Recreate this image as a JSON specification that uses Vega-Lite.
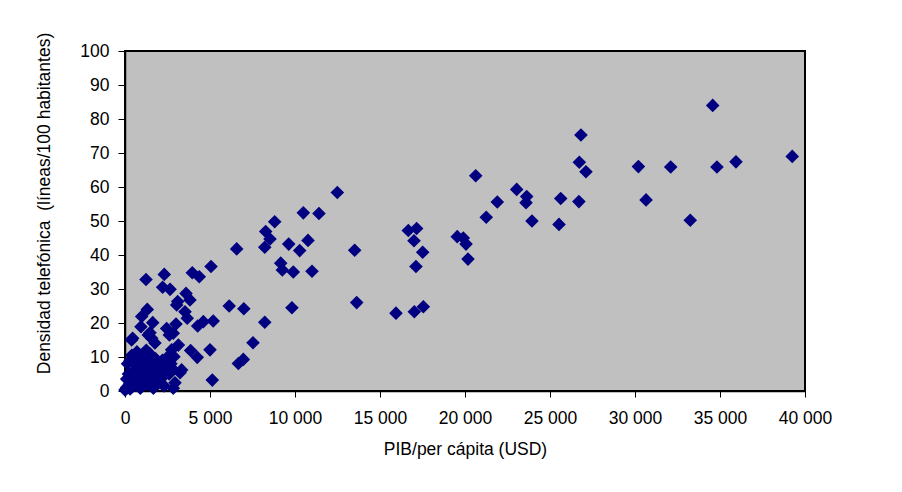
{
  "$schema": "https://vega.github.io/schema/vega-lite/v6.json",
  "width": 680,
  "height": 340,
  "autosize": {"type": "none"},
  "padding": {"left": 125, "top": 51, "right": 97, "bottom": 101},
  "background": "white",
  "config": {
    "view": {"fill": "#C0C0C0", "stroke": "#000000", "strokeWidth": 2},
    "font": "Liberation Sans"
  },
  "data": {
    "values": [
      {"pib": 34570, "densidad": 84.0},
      {"pib": 30200, "densidad": 66.0},
      {"pib": 32100, "densidad": 65.9},
      {"pib": 34820, "densidad": 65.9},
      {"pib": 35940, "densidad": 67.4},
      {"pib": 39250, "densidad": 69.0},
      {"pib": 30650, "densidad": 56.2},
      {"pib": 33250, "densidad": 50.2},
      {"pib": 26820, "densidad": 75.3},
      {"pib": 26725, "densidad": 67.3},
      {"pib": 27115, "densidad": 64.5},
      {"pib": 20630, "densidad": 63.3},
      {"pib": 23040, "densidad": 59.3},
      {"pib": 23630, "densidad": 57.2},
      {"pib": 23590, "densidad": 55.4},
      {"pib": 21900, "densidad": 55.6},
      {"pib": 21250, "densidad": 51.1},
      {"pib": 25630, "densidad": 56.6},
      {"pib": 26700, "densidad": 55.7},
      {"pib": 23940, "densidad": 50.0},
      {"pib": 25530, "densidad": 49.0},
      {"pib": 16665, "densidad": 47.2},
      {"pib": 17155, "densidad": 47.8},
      {"pib": 17000, "densidad": 44.2},
      {"pib": 17510, "densidad": 40.8},
      {"pib": 17115, "densidad": 36.6},
      {"pib": 19545, "densidad": 45.4},
      {"pib": 19900, "densidad": 45.0},
      {"pib": 20060, "densidad": 43.2},
      {"pib": 20175, "densidad": 38.8},
      {"pib": 15940, "densidad": 22.9},
      {"pib": 17020, "densidad": 23.3},
      {"pib": 17550, "densidad": 24.8},
      {"pib": 12490, "densidad": 58.4},
      {"pib": 10490, "densidad": 52.4},
      {"pib": 11410, "densidad": 52.2},
      {"pib": 8805, "densidad": 49.8},
      {"pib": 8275, "densidad": 46.9},
      {"pib": 8530, "densidad": 44.7},
      {"pib": 8220, "densidad": 42.3},
      {"pib": 9630, "densidad": 43.2},
      {"pib": 10765, "densidad": 44.3},
      {"pib": 10275, "densidad": 41.3},
      {"pib": 9160, "densidad": 37.6},
      {"pib": 9255, "densidad": 35.6},
      {"pib": 9900, "densidad": 35.0},
      {"pib": 11000, "densidad": 35.2},
      {"pib": 13510, "densidad": 41.4},
      {"pib": 13630, "densidad": 26.0},
      {"pib": 9820, "densidad": 24.5},
      {"pib": 8220, "densidad": 20.2},
      {"pib": 7530, "densidad": 14.2},
      {"pib": 6570, "densidad": 41.8},
      {"pib": 5060, "densidad": 36.6},
      {"pib": 3960, "densidad": 34.8},
      {"pib": 4370, "densidad": 33.6},
      {"pib": 2310, "densidad": 34.3},
      {"pib": 1235, "densidad": 32.8},
      {"pib": 2215, "densidad": 30.5},
      {"pib": 2650, "densidad": 29.9},
      {"pib": 3590, "densidad": 28.7},
      {"pib": 3820, "densidad": 26.8},
      {"pib": 3100, "densidad": 26.3},
      {"pib": 3040, "densidad": 25.3},
      {"pib": 3530, "densidad": 23.3},
      {"pib": 3660, "densidad": 21.4},
      {"pib": 1310, "densidad": 24.0},
      {"pib": 980, "densidad": 21.9},
      {"pib": 1630, "densidad": 20.1},
      {"pib": 940, "densidad": 18.9},
      {"pib": 1470, "densidad": 17.1},
      {"pib": 1570, "densidad": 15.5},
      {"pib": 450, "densidad": 15.5},
      {"pib": 2450, "densidad": 18.4},
      {"pib": 3000, "densidad": 19.7},
      {"pib": 2610, "densidad": 16.5},
      {"pib": 2840, "densidad": 17.0},
      {"pib": 4275, "densidad": 19.1},
      {"pib": 4610, "densidad": 20.4},
      {"pib": 5190, "densidad": 20.6},
      {"pib": 6130, "densidad": 25.0},
      {"pib": 6990, "densidad": 24.2},
      {"pib": 6670, "densidad": 8.1},
      {"pib": 6960, "densidad": 9.3},
      {"pib": 5000, "densidad": 12.1},
      {"pib": 3860, "densidad": 11.9},
      {"pib": 4250, "densidad": 9.9},
      {"pib": 3235, "densidad": 5.4},
      {"pib": 5135, "densidad": 3.2},
      {"pib": 2840, "densidad": 0.8},
      {"pib": 3140, "densidad": 13.5},
      {"pib": 2745, "densidad": 12.1},
      {"pib": 2880, "densidad": 10.1},
      {"pib": 1670, "densidad": 0.8},
      {"pib": 0, "densidad": 0.3},
      {"pib": 50, "densidad": 0.5},
      {"pib": 100, "densidad": 1.0},
      {"pib": 200, "densidad": 1.5},
      {"pib": 250, "densidad": 2.0},
      {"pib": 300, "densidad": 0.6},
      {"pib": 350, "densidad": 3.0},
      {"pib": 400, "densidad": 1.2},
      {"pib": 450, "densidad": 4.5},
      {"pib": 500, "densidad": 2.5},
      {"pib": 550, "densidad": 6.0},
      {"pib": 600, "densidad": 3.5},
      {"pib": 650, "densidad": 1.8},
      {"pib": 700, "densidad": 5.0},
      {"pib": 750, "densidad": 7.5},
      {"pib": 800, "densidad": 2.8},
      {"pib": 850, "densidad": 8.5},
      {"pib": 900, "densidad": 4.0},
      {"pib": 950, "densidad": 6.5},
      {"pib": 1000, "densidad": 9.5},
      {"pib": 1050, "densidad": 3.0},
      {"pib": 1100, "densidad": 10.5},
      {"pib": 1150, "densidad": 7.0},
      {"pib": 1200, "densidad": 5.5},
      {"pib": 1250, "densidad": 8.0},
      {"pib": 1300, "densidad": 2.0},
      {"pib": 1350, "densidad": 9.5},
      {"pib": 1400, "densidad": 6.0},
      {"pib": 1450, "densidad": 11.0},
      {"pib": 1500, "densidad": 4.0},
      {"pib": 1550, "densidad": 8.5},
      {"pib": 1600, "densidad": 7.0},
      {"pib": 1700, "densidad": 5.0},
      {"pib": 1800, "densidad": 9.5},
      {"pib": 1900, "densidad": 3.0},
      {"pib": 2000, "densidad": 7.5},
      {"pib": 2100, "densidad": 5.5},
      {"pib": 2200, "densidad": 9.0},
      {"pib": 2300, "densidad": 4.5},
      {"pib": 2400, "densidad": 6.5},
      {"pib": 2500, "densidad": 10.0},
      {"pib": 2600, "densidad": 5.0},
      {"pib": 2700, "densidad": 8.0},
      {"pib": 2800, "densidad": 6.5},
      {"pib": 300, "densidad": 9.0},
      {"pib": 200, "densidad": 5.0},
      {"pib": 100, "densidad": 3.5},
      {"pib": 600, "densidad": 7.8},
      {"pib": 1250, "densidad": 12.0},
      {"pib": 150, "densidad": 8.0},
      {"pib": 400, "densidad": 10.5},
      {"pib": 700, "densidad": 11.5},
      {"pib": 900, "densidad": 0.8},
      {"pib": 2300, "densidad": 1.5},
      {"pib": 3330, "densidad": 6.2},
      {"pib": 2940, "densidad": 2.4},
      {"pib": 390, "densidad": 15.0},
      {"pib": 1370, "densidad": 16.5},
      {"pib": 1760, "densidad": 14.1},
      {"pib": 880, "densidad": 10.6}
    ]
  },
  "mark": {"type": "point", "shape": "diamond", "filled": true, "color": "#000080", "size": 185, "opacity": 1},
  "encoding": {
    "x": {
      "field": "pib",
      "type": "quantitative",
      "scale": {"domain": [0, 40000], "nice": false, "zero": true},
      "axis": {
        "values": [0, 5000, 10000, 15000, 20000, 25000, 30000, 35000, 40000],
        "labelExpr": "replace(format(datum.value, ',d'), ',', ' ')",
        "title": "PIB/per cápita (USD)",
        "grid": false,
        "domainColor": "#000000",
        "domainWidth": 1.5,
        "tickColor": "#000000",
        "tickSize": 6,
        "labelPadding": 12,
        "labelFontSize": 17.5,
        "labelColor": "#000000",
        "labelFlush": false,
        "labelOverlap": false,
        "titleFontSize": 17.5,
        "titleFontWeight": "normal",
        "titleColor": "#000000",
        "titleBaseline": "alphabetic",
        "titleY": 63
      }
    },
    "y": {
      "field": "densidad",
      "type": "quantitative",
      "scale": {"domain": [0, 100], "nice": false},
      "axis": {
        "values": [0, 10, 20, 30, 40, 50, 60, 70, 80, 90, 100],
        "title": "Densidad telefónica \u00a0(líneas/100 habitantes)",
        "grid": false,
        "domainColor": "#000000",
        "domainWidth": 1.5,
        "tickColor": "#000000",
        "tickSize": 7,
        "labelPadding": 9,
        "labelFontSize": 17.5,
        "labelColor": "#000000",
        "labelFlush": false,
        "labelOverlap": false,
        "titleFontSize": 17.5,
        "titleFontWeight": "normal",
        "titleColor": "#000000",
        "titleBaseline": "alphabetic",
        "titleX": -76,
        "titleY": 152
      }
    }
  }
}
